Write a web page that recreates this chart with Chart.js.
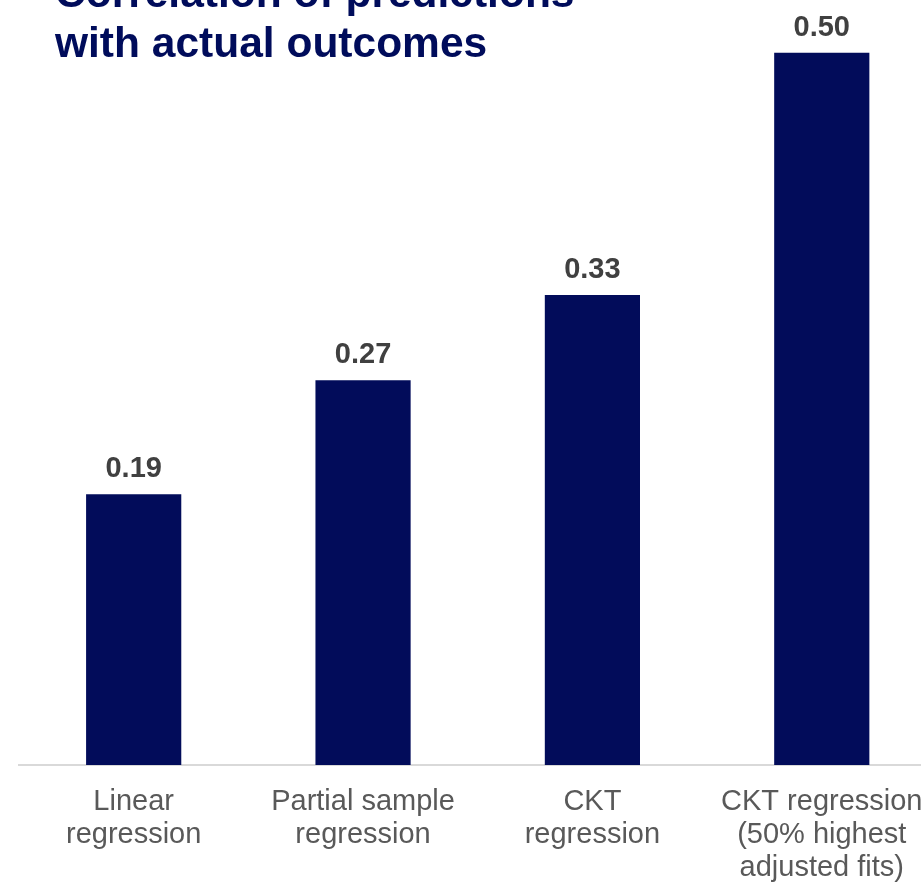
<!DOCTYPE html>
<html>
<head>
<meta charset="utf-8">
<script src="https://cdn.jsdelivr.net/npm/chart.js@4/dist/chart.umd.min.js"></script>
<style>
  html, body { margin: 0; padding: 0; background: #fff; overflow: hidden; }
  #wrap { position: relative; width: 921px; height: 882px; overflow: hidden; }
  #title {
    position: absolute; left: 55px; top: -32px;
    font-family: "Liberation Sans", Arial, sans-serif;
    font-weight: bold; font-size: 42.5px; line-height: 50px;
    color: #000c5b; white-space: nowrap;
  }
  #chart { position: absolute; left: 0; top: 0; }
</style>
</head>
<body>
<div id="wrap">
  <canvas id="chart" width="943" height="882"></canvas>
  <div id="title">Correlation of predictions<br>with actual outcomes</div>
</div>
<script>
const categories = [
  ['Linear', 'regression'],
  ['Partial sample', 'regression'],
  ['CKT', 'regression'],
  ['CKT regression', '(50% highest', 'adjusted fits)']
];
const correlations = [0.19, 0.27, 0.33, 0.50];

// value labels above each bar
const valueLabels = {
  id: 'valueLabels',
  afterDatasetsDraw(chart) {
    const ctx = chart.ctx;
    const meta = chart.getDatasetMeta(0);
    ctx.save();
    ctx.font = 'bold 29px "Liberation Sans", Arial, sans-serif';
    ctx.fillStyle = '#404040';
    ctx.textAlign = 'center';
    ctx.textBaseline = 'alphabetic';
    meta.data.forEach((bar, i) => {
      ctx.fillText(correlations[i].toFixed(2), bar.x, bar.y - 17);
    });
    ctx.restore();
  }
};

new Chart(document.getElementById('chart').getContext('2d'), {
  type: 'bar',
  data: {
    labels: categories,
    datasets: [{
      data: correlations,
      backgroundColor: '#020c5a',
      borderWidth: 0,
      barPercentage: 0.415,
      categoryPercentage: 1
    }]
  },
  options: {
    responsive: false,
    animation: false,
    devicePixelRatio: 1,
    layout: { padding: { left: 19, right: 4, top: 0, bottom: 0 } },
    plugins: {
      legend: { display: false },
      title: { display: false },
      tooltip: { enabled: false }
    },
    scales: {
      x: {
        grid: { display: false, drawTicks: false },
        border: { display: true, color: '#d9d9d9', width: 2 },
        ticks: {
          color: '#595959',
          padding: 20,
          maxRotation: 0,
          autoSkip: false,
          font: { family: '"Liberation Sans", Arial, sans-serif', size: 29, lineHeight: 1.15 }
        },
        afterFit(scale) { scale.height = 117; }
      },
      y: {
        display: false,
        min: 0,
        max: 0.537
      }
    }
  },
  plugins: [valueLabels]
});
</script>
</body>
</html>
